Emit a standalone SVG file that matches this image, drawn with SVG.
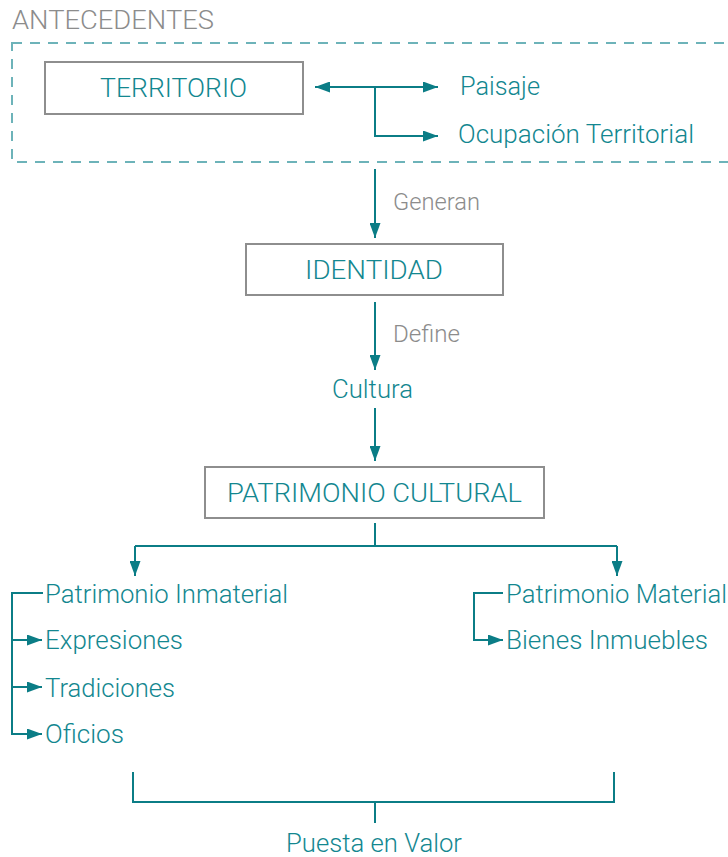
<svg xmlns="http://www.w3.org/2000/svg" width="728" height="857" viewBox="0 0 728 857">
<style>
.t{font-family:Roboto,"Liberation Sans",sans-serif;font-size:25.5px;font-weight:300;fill:#138790}
.g{font-family:Roboto,"Liberation Sans",sans-serif;font-weight:300;fill:#8c8c8c}
.box{fill:#fff;stroke:#8e8e8e;stroke-width:2}
.c{fill:none;stroke:#0b7d86;stroke-width:2}
</style>
<defs>
<marker id="ah" viewBox="0 0 15 11" refX="15" refY="5.5" markerWidth="15" markerHeight="11" markerUnits="userSpaceOnUse" orient="auto-start-reverse">
<path d="M0,0 L15,5.5 L0,11 z" fill="#0b7d86"/>
</marker>
</defs>
<rect width="728" height="857" fill="#fff"/>
<g id="antecedentes">
<rect x="12" y="43" width="740" height="119" fill="none" stroke="#6db3b9" stroke-width="2" stroke-dasharray="10 8"/>
<text class="g" x="12" y="29" font-size="25.5" textLength="202" lengthAdjust="spacingAndGlyphs">ANTECEDENTES</text>
</g>
<g id="connectors">
<path class="c" d="M315,87 H438" marker-start="url(#ah)" marker-end="url(#ah)"/>
<path class="c" d="M375,87 V136 H438" marker-end="url(#ah)"/>
<path class="c" d="M375,169 V238" marker-end="url(#ah)"/>
<path class="c" d="M375,302 V370" marker-end="url(#ah)"/>
<path class="c" d="M375,408 V461" marker-end="url(#ah)"/>
<path class="c" d="M375,523 V546 M135,546 H617"/>
<path class="c" d="M135,546 V576" marker-end="url(#ah)"/>
<path class="c" d="M617,546 V576" marker-end="url(#ah)"/>
<path class="c" d="M43,593 H12 V734 H42" marker-end="url(#ah)"/>
<path class="c" d="M12,640 H42" marker-end="url(#ah)"/>
<path class="c" d="M12,687 H42" marker-end="url(#ah)"/>
<path class="c" d="M503,593 H474 V640 H503" marker-end="url(#ah)"/>
<path class="c" d="M133,772 V802 H614 V772 M375,802 V823"/>
</g>
<g id="territorio">
<rect class="box" x="45" y="62" width="258" height="52"/>
<text class="t" x="100" y="97" textLength="147" lengthAdjust="spacingAndGlyphs">TERRITORIO</text>
</g>
<g id="paisaje"><text class="t" x="460" y="95" textLength="80" lengthAdjust="spacingAndGlyphs">Paisaje</text></g>
<g id="ocupacion"><text class="t" x="458" y="143" textLength="236" lengthAdjust="spacingAndGlyphs">Ocupación Territorial</text></g>
<g id="generan"><text class="g" x="393" y="210" font-size="23" textLength="87" lengthAdjust="spacingAndGlyphs">Generan</text></g>
<g id="identidad">
<rect class="box" x="246" y="244" width="257" height="51"/>
<text class="t" x="305" y="279" textLength="138" lengthAdjust="spacingAndGlyphs">IDENTIDAD</text>
</g>
<g id="define"><text class="g" x="393" y="342" font-size="23" textLength="67" lengthAdjust="spacingAndGlyphs">Define</text></g>
<g id="cultura"><text class="t" x="332" y="398" textLength="81" lengthAdjust="spacingAndGlyphs">Cultura</text></g>
<g id="patrimonio-cultural">
<rect class="box" x="205" y="467" width="339" height="51"/>
<text class="t" x="227" y="502" textLength="295" lengthAdjust="spacingAndGlyphs">PATRIMONIO CULTURAL</text>
</g>
<g id="inmaterial"><text class="t" x="45" y="603" textLength="243" lengthAdjust="spacingAndGlyphs">Patrimonio Inmaterial</text></g>
<g id="expresiones"><text class="t" x="45" y="649" textLength="138" lengthAdjust="spacingAndGlyphs">Expresiones</text></g>
<g id="tradiciones"><text class="t" x="45" y="697" textLength="130" lengthAdjust="spacingAndGlyphs">Tradiciones</text></g>
<g id="oficios"><text class="t" x="45" y="743" textLength="79" lengthAdjust="spacingAndGlyphs">Oficios</text></g>
<g id="material"><text class="t" x="506" y="603" textLength="221" lengthAdjust="spacingAndGlyphs">Patrimonio Material</text></g>
<g id="bienes"><text class="t" x="506" y="649" textLength="202" lengthAdjust="spacingAndGlyphs">Bienes Inmuebles</text></g>
<g id="puesta"><text class="t" x="286" y="852" textLength="176" lengthAdjust="spacingAndGlyphs">Puesta en Valor</text></g>
</svg>
